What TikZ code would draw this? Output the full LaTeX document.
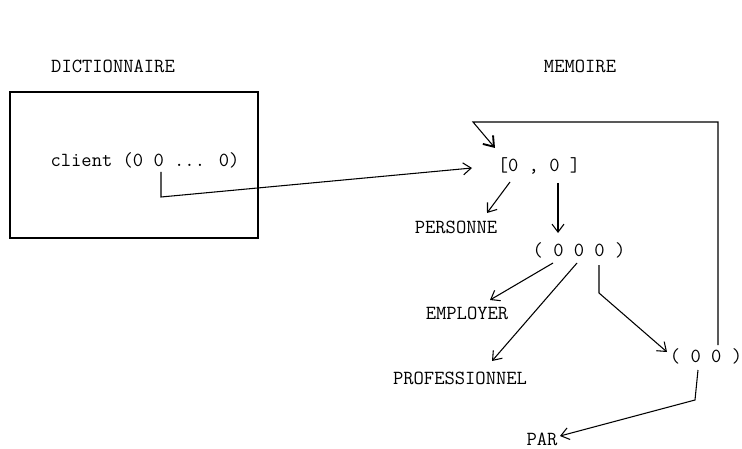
\documentclass[tikz,border=0pt]{standalone}
\usetikzlibrary{arrows.meta, positioning, calc}

\begin{document}
\begin{tikzpicture}[
  x=0.75pt, y=-0.75pt,
  every node/.style={
    font=\ttfamily\fontsize{15}{17}\selectfont,
    inner sep=0pt
  },
  arrow/.style={-{Straight Barb[length=6pt, width=9pt]}, line width=0.8pt}
]
\useasboundingbox (0,0) rectangle (742,449);

% Dictionary
\node (dicttitle) at (113,66) {DICTIONNAIRE};
\node (dict) [draw, line width=1.1pt, minimum width=186pt, minimum height=109.5pt] at (134,165) {};
\node (client) at (145,160) {client (0 0 ... 0)};

% Memory
\node (memtitle) at (580,66) {MEMOIRE};
\node (head) at (539,166) {[0 , 0 ]};
\node (personne) at (456,227) {PERSONNE};
\node (triple) at (579,250) {( 0 0 0 )};
\node (employer) at (467,313) {EMPLOYER};
\node (prof) at (460,378) {PROFESSIONNEL};
\node (pair) at (706,356) {( 0 0 )};
\node (par) at (542,439) {PAR};

% Arrows
\draw[arrow] ($(client)+(16,12)$) -- ++(0,25) -- ($(head)+(-67,2)$);
\draw[arrow, -{Straight Barb[length=7pt, width=10pt, line width=1.4pt]}]
  ($(pair)+(12,-11)$) |- ($(head)+(-66,-44)$) -- ($(head)+(-44,-18)$);
\draw[arrow] ($(head)+(-29,16)$) -- ($(personne)+(31,-14)$);
\draw[arrow] ($(head)+(19,17)$) -- ($(triple)+(-21,-17)$);
\draw[arrow] ($(triple)+(-26,13)$) -- ($(employer)+(23,-13)$);
\draw[arrow] ($(triple)+(-2,13)$) -- ($(prof)+(32,-17)$);
\draw[arrow] ($(triple)+(20,15)$) -- ++(0,28) -- ($(pair)+(-39,-4)$);
\draw[arrow] ($(pair)+(-8,14)$) -- ++(-3,30) -- ($(par)+(18,-3)$);

\end{tikzpicture}
\end{document}
